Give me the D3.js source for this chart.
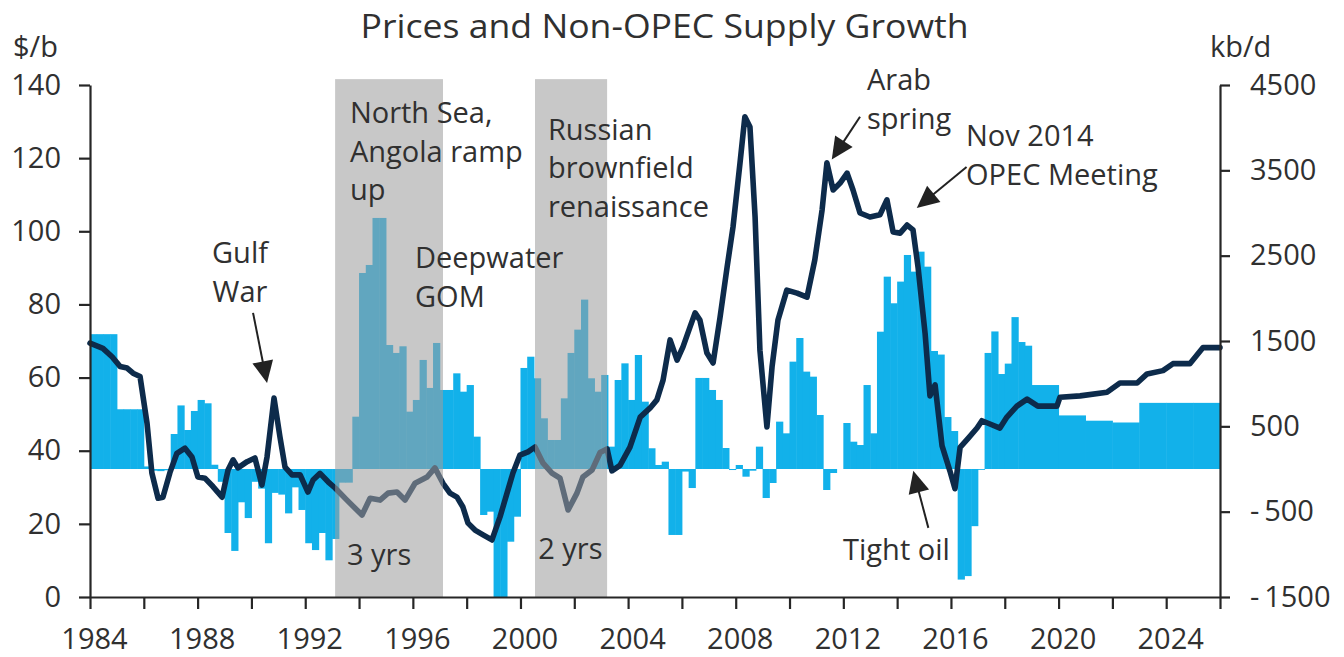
<!DOCTYPE html>
<html><head><meta charset="utf-8">
<script src="https://cdn.jsdelivr.net/npm/d3@7"></script>
<style>
body{margin:0;background:#fff;}
text{font-family:"Open Sans","DejaVu Sans",sans-serif;fill:#303030;}
</style></head>
<body><svg id="chart" width="1344" height="657"></svg>
<script>
// ---------- DATA ----------
const chartTitle = "Prices and Non-OPEC Supply Growth";
const leftUnit = "$/b";
const rightUnit = "kb/d";
// Non-OPEC supply growth, kb/d, quarterly from 1984Q1 to 2018Q4
const supplyQuarterly = [
  1580,1580,1580,1580,  700,700,700,700,  30,-20,-25,-15,  410,745,457,680,
  809,770,50,-150,  -750,-960,-390,-575,  -150,-230,-870,-280,  -300,-520,-215,-480,
  -870,-950,-750,-1070,  -820,-160,-160,613,  2297,2391,2942,2942,  1453,1360,1438,672,
  809,1278,950,1477,  926,926,1121,906,  984,379,-539,-500,  -1500,-1500,-852,-559,
  1184,1316,1063,594,  340,340,828,1360,  1633,1985,1063,906,  1102,262,1043,1238,
  809,1336,789,243,  47,86,-773,-773,  -30,-223,1067,1067,  926,809,246,-12,
  47,-90,-20,262,  -340,-164,555,418,  1258,1535,1141,1082,  633,-246,-47,0,
  539,320,281,984,  418,1609,2254,1942,  2196,2508,2313,2547,  2371,1383,1341,609,
  445,-1296,-1255,-670,  -10,1360,1612,1113,  1235,1780,1488,1445
];
const quarterlyStartYear = 1984;
// Annual forecast growth, kb/d
const supplyAnnualYears = [2019,2020,2021,2022,2023,2024,2025];
const supplyAnnual = [984,628,566,545,775,775,775];
// Oil price, $/b  [year, price]
const priceSeries = [
 [1984.00,69.4],[1984.48,68],[1984.82,65.7],[1985.12,63],[1985.38,62.6],[1985.60,61.2],[1985.86,60.3],
 [1986.12,47.5],[1986.30,33.9],[1986.53,27],[1986.71,27.3],[1986.97,34],[1987.23,39.3],[1987.53,40.7],
 [1987.79,38.3],[1988.01,32.8],[1988.27,32.5],[1988.57,30.2],[1988.91,27.3],[1989.13,34.7],[1989.32,37.5],
 [1989.50,35.3],[1989.84,37],[1990.13,38],[1990.39,30.6],[1990.58,38.3],[1990.84,54.4],[1991.06,43.8],
 [1991.25,35.5],[1991.51,33.4],[1991.81,33.4],[1992.10,28.7],[1992.29,32],[1992.55,33.8],[1992.85,31.5],
 [1993.11,29.8],[1993.55,26.5],[1994.11,22.4],[1994.41,27],[1994.78,26.5],[1995.08,28.4],[1995.41,28.7],
 [1995.71,26.5],[1996.08,31.1],[1996.53,32.8],[1996.82,35.3],[1997.12,31.1],[1997.38,28.4],[1997.64,27.3],
 [1997.86,24.6],[1998.05,20.2],[1998.31,18.3],[1998.61,17],[1998.94,15.6],[1999.24,21.9],[1999.50,28.4],
 [1999.72,33.9],[1999.98,38.8],[2000.28,39.7],[2000.54,41],[2000.84,36.6],[2001.17,33.9],[2001.47,32.5],
 [2001.77,23.8],[2002.10,28.4],[2002.32,32.8],[2002.66,34.7],[2002.96,39.5],[2003.22,40.5],[2003.40,34.5],
 [2003.70,36],[2004.07,41],[2004.45,49.2],[2004.82,51.7],[2005.07,53.9],[2005.30,59.3],[2005.56,70.3],
 [2005.82,64.8],[2006.04,68.4],[2006.30,73.8],[2006.49,77.7],[2006.67,75.7],[2006.93,66.7],[2007.16,64],
 [2007.42,76.6],[2007.68,90.2],[2007.90,101.2],[2008.16,118.7],[2008.34,131.3],[2008.53,128.5],
 [2008.72,103.9],[2008.90,67.5],[2009.16,46.5],[2009.35,62.9],[2009.57,75.7],[2009.90,83.9],[2010.28,83.1],
 [2010.65,82],[2010.94,92.2],[2011.21,105.8],[2011.39,118.7],[2011.62,111.3],[2011.88,113.2],[2012.14,115.9],
 [2012.36,111.3],[2012.62,105],[2012.99,103.9],[2013.36,104.5],[2013.62,108.6],[2013.85,99.8],[2014.11,99.5],
 [2014.37,101.7],[2014.59,100.4],[2014.78,90],[2015.04,72],[2015.22,55],[2015.41,58],[2015.67,41.3],
 [2015.96,34.5],[2016.15,29.6],[2016.34,40.9],[2016.63,43.3],[2016.97,46.2],[2017.15,48.2],[2017.45,47.3],
 [2017.82,46.2],[2018.08,49.2],[2018.45,52.2],[2018.83,54.1],[2019.23,52.2],[2019.94,52.2],[2020.05,54.6],
 [2020.80,55],[2021.80,56],[2022.28,58.5],[2022.92,58.5],[2023.29,61],[2023.88,61.9],[2024.25,63.8],
 [2024.88,63.8],[2025.37,68.2],[2026.00,68.2]
];
// Shaded supply-ramp periods [startYear, endYear]
const shadedPeriods = [[1993.11,1997.12],[2000.54,2003.22]];
const leftTicks = [0,20,40,60,80,100,120,140];
const rightTicks = [-1500,-500,500,1500,2500,3500,4500];
const yearTicks = d3.range(1984,2027,2);
// Annotations: [year, $/b] of first baseline, text lines
const annotations = [
  {x:1989.575, y:91.3, anchor:"middle", lines:["Gulf","War"]},
  {x:1993.66, y:129.6, anchor:"start", lines:["North Sea,","Angola ramp","up"]},
  {x:1996.08, y:89.9, anchor:"start", lines:["Deepwater","GOM"]},
  {x:2001.02, y:125.0, anchor:"start", lines:["Russian","brownfield","renaissance"]},
  {x:1993.55, y:8.75, anchor:"start", lines:["3 yrs"]},
  {x:2000.66, y:10.3, anchor:"start", lines:["2 yrs"]},
  {x:2012.88, y:138.5, anchor:"start", lines:["Arab","spring"]},
  {x:2016.56, y:123.3, anchor:"start", lines:["Nov 2014","OPEC Meeting"]},
  {x:2011.99, y:10.1, anchor:"start", lines:["Tight oil"]}
];
// Arrows: tail -> tip, in [year, $/b]
const arrows = [
  {from:[1990.06,77.7], to:[1990.58,58.5]},
  {from:[2012.62,131.3], to:[2011.57,119.6]},
  {from:[2016.58,117.6], to:[2014.73,106.4]},
  {from:[2015.16,18.9], to:[2014.60,34.5]}
];

// ---------- CHART ----------
const svg = d3.select("#chart");
const x = d3.scaleLinear().domain([1984,2026]).range([90,1220]);
const yL = d3.scaleLinear().domain([0,140]).range([597,85]);
const yR = d3.scaleLinear().domain([-1500,4500]).range([597,85]);
const FS = 29;

const bars = supplyQuarterly.map((v,i)=>({t0:quarterlyStartYear+i*0.25, t1:quarterlyStartYear+(i+1)*0.25, v}))
  .concat(supplyAnnualYears.map((yr,i)=>({t0:yr, t1:yr+1, v:supplyAnnual[i]})));

svg.append("g").selectAll("rect").data(bars).join("rect")
  .attr("x", d=>x(d.t0))
  .attr("width", d=>x(d.t1)-x(d.t0)+0.5)
  .attr("y", d=>yR(Math.max(0,d.v)))
  .attr("height", d=>Math.abs(yR(d.v)-yR(0)))
  .attr("fill","#12b1ea");

const line = d3.line().x(d=>x(d[0])).y(d=>yL(d[1]));
svg.append("path").datum(priceSeries)
  .attr("d", line).attr("fill","none")
  .attr("stroke","#0d2b4b").attr("stroke-width",5.6)
  .attr("stroke-linejoin","round").attr("stroke-linecap","round");

svg.append("g").selectAll("rect").data(shadedPeriods).join("rect")
  .attr("x", d=>x(d[0])).attr("width", d=>x(d[1])-x(d[0]))
  .attr("y", yL(141.6)).attr("height", yL(0)-yL(141.6))
  .attr("fill","#9e9e9e").attr("fill-opacity",0.57);

// Axes
function styleAxis(g){
  g.selectAll("path.domain").attr("stroke","#262626").attr("stroke-width",2.2);
  g.selectAll(".tick line").attr("stroke","#262626").attr("stroke-width",2.2);
  g.selectAll(".tick text").style("font-size",FS+"px").style("fill","#303030")
    .style("font-family",'"Open Sans","DejaVu Sans",sans-serif');
}
svg.append("g").attr("transform","translate(90,0)")
  .call(d3.axisLeft(yL).tickValues(leftTicks).tickSize(11).tickSizeOuter(0).tickPadding(18))
  .call(styleAxis);
svg.append("g").attr("transform","translate(1220,0)")
  .call(d3.axisRight(yR).tickValues(rightTicks).tickSize(10).tickSizeOuter(0).tickPadding(20)
    .tickFormat(d=> d<0 ? "-\u2009"+Math.abs(d) : String(d)))
  .call(styleAxis);
svg.append("g").attr("transform","translate(0,597)")
  .call(d3.axisBottom(x).tickValues(yearTicks).tickSize(12).tickSizeOuter(0).tickPadding(19)
    .tickFormat(d=> d%4===0 ? String(d) : ""))
  .call(styleAxis)
  .call(g=>g.selectAll(".tick text").attr("x",4));

// Titles & units
svg.append("text").attr("x",664.5).attr("y",38).attr("text-anchor","middle")
  .attr("textLength",608).attr("lengthAdjust","spacingAndGlyphs")
  .style("font-size","32px").text(chartTitle);
svg.append("text").attr("x",13).attr("y",57).style("font-size",FS+"px").text(leftUnit);
svg.append("text").attr("x",1210).attr("y",57).style("font-size",FS+"px").text(rightUnit);

// Annotations
const LH = 38.5;
annotations.forEach(a=>{
  const t = svg.append("text").attr("text-anchor",a.anchor).style("font-size",FS+"px");
  a.lines.forEach((ln,i)=>{
    t.append("tspan").attr("x",x(a.x)).attr("y",yL(a.y)+i*LH).text(ln);
  });
});
arrows.forEach(a=>{
  const x0=x(a.from[0]), y0=yL(a.from[1]), x1=x(a.to[0]), y1=yL(a.to[1]);
  const dx=x1-x0, dy=y1-y0, len=Math.hypot(dx,dy), ux=dx/len, uy=dy/len;
  const hl=22, hw=10.5;
  const bx=x1-ux*hl, by=y1-uy*hl;
  svg.append("line").attr("x1",x0).attr("y1",y0).attr("x2",bx+ux*2).attr("y2",by+uy*2)
    .attr("stroke","#222").attr("stroke-width",2);
  svg.append("path")
    .attr("d",`M${x1},${y1}L${bx-uy*hw},${by+ux*hw}L${bx+uy*hw},${by-ux*hw}Z`)
    .attr("fill","#222");
});
</script></body></html>
